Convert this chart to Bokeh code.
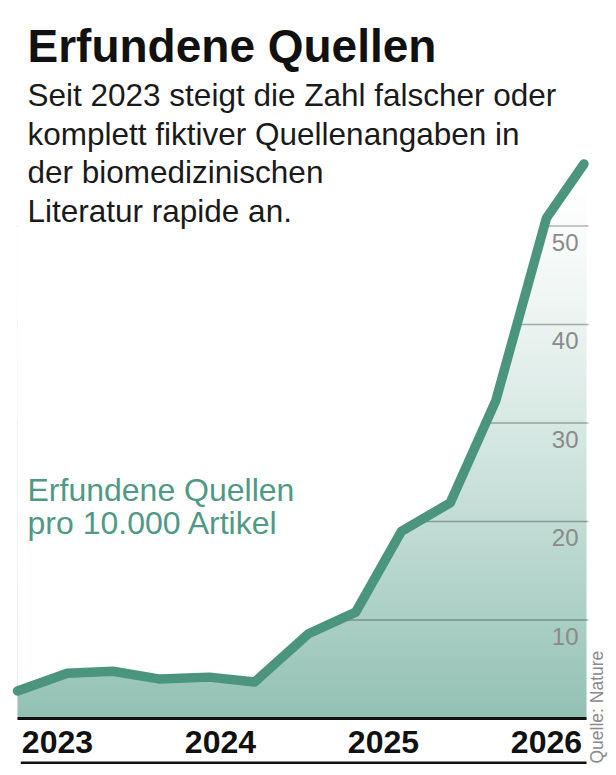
import numpy as np
from bokeh.plotting import figure
from bokeh.models import Label, Range1d
from bokeh.core.properties import value
from bokeh.embed import file_html
from bokeh.resources import INLINE

# ---------------- data ----------------
dates = [2022.755, 2023.06, 2023.34, 2023.63, 2023.93, 2024.21, 2024.54,
         2024.83, 2025.11, 2025.41, 2025.69, 2026.0, 2026.23]
values = [2.8, 4.6, 4.8, 4.0, 4.2, 3.7, 8.6, 10.8, 19.0, 21.9, 32.3, 50.8, 56.3]
year_ticks = [2023, 2024, 2025, 2026]
year_labels = ["2023", "2024", "2025", "2026"]
y_ticks = [10, 20, 30, 40, 50]
y_labels = ["10", "20", "30", "40", "50"]
title = "Erfundene Quellen"
subtitle = ["Seit 2023 steigt die Zahl falscher oder",
            "komplett fiktiver Quellenangaben in",
            "der biomedizinischen",
            "Literatur rapide an."]
series_label = ["Erfundene Quellen", "pro 10.000 Artikel"]
source = "Quelle: Nature"

# ---------------- style ----------------
W, H = 616, 775
TEAL = "#4b957f"
LABEL_TEAL = "#4f9985"
SANS = "Liberation Sans"
SHIFT = 0.37              # baseline compensation (fraction of font size)
PX_PER_UNIT = 9.85
ZERO_PX = 718

x_start = dates[0]
x_end = 2026.246          # right edge of the filled area
grid_end = 2026.258
x_lo, x_hi = 2022.6507, 2026.4299
y_lo, y_hi = -5.787, 72.893

def sy(px_from_top, size):
    return H - (px_from_top - SHIFT * size)

p = figure(width=W, height=H, output_backend="svg", toolbar_location=None,
           x_range=Range1d(x_lo, x_hi), y_range=Range1d(y_lo, y_hi),
           min_border=0, outline_line_color=None, background_fill_color="white",
           border_fill_color="white")
p.xaxis.visible = False
p.yaxis.visible = False
p.xgrid.visible = False
p.ygrid.visible = False

# vertical gradient (style only)
top_v = 60.0
nrows = 240
vv = (np.arange(nrows) + 0.5) / nrows * top_v
a = np.clip(1 - vv / 55.0, 0, 1) ** 1.3
base = np.array([146, 193, 180], dtype=float)
rgb = 255 - (255 - base)[None, :] * a[:, None]
img = np.zeros((nrows, 1), dtype=np.uint32)
view = img.view(dtype=np.uint8).reshape((nrows, 1, 4))
view[:, 0, 0] = rgb[:, 0].astype(np.uint8)
view[:, 0, 1] = rgb[:, 1].astype(np.uint8)
view[:, 0, 2] = rgb[:, 2].astype(np.uint8)
view[:, 0, 3] = 255
gr = p.image_rgba(image=[img], x=x_start, y=0, dw=x_end - x_start, dh=top_v)
gr.level = "image"

# grid lines (hidden above the curve by the mask)
gl = p.segment(x0=[x_start] * len(y_ticks), y0=y_ticks, x1=[grid_end] * len(y_ticks),
               y1=y_ticks, line_color="black", line_alpha=0.3, line_width=1.3)
gl.level = "underlay"

# white mask above the curve
p.varea(x=dates, y1=values, y2=[y_hi] * len(dates), fill_color="white")

# baseline and bottom rule
p.segment(x0=[x_start], y0=[0], x1=[x_end], y1=[0], line_color="#111111", line_width=3)
p.segment(x0=[x_start + 0.02], y0=[-4.5], x1=[x_end], y1=[-4.5], line_color="#111111",
          line_width=2.5)

# the series line
p.line(dates, values, line_color=TEAL, line_width=9.5, line_cap="round", line_join="round")

# y tick labels inside the chart
tick_size = 24
tick_off = (25 - SHIFT * tick_size) / PX_PER_UNIT
p.text(x=[2026.197] * len(y_ticks), y=[v - tick_off for v in y_ticks], text=y_labels,
       text_align="right", text_baseline="alphabetic", text_font=value(SANS),
       text_font_size=f"{tick_size}px", text_color="#8a8a8a")

# year labels
yr_size = 32
yr_y = (ZERO_PX - (753 - SHIFT * yr_size)) / PX_PER_UNIT
p.text(x=year_ticks, y=[yr_y] * len(year_ticks), text=year_labels,
       text_align="center", text_baseline="alphabetic", text_font=value(SANS),
       text_font_style="bold", text_font_size=f"{yr_size}px", text_color="#111111")

# title
p.add_layout(Label(x=27, y=sy(63, 46), x_units="screen", y_units="screen", text=title,
                   text_font=SANS, text_font_style="bold", text_font_size="46px",
                   text_color="#111111", text_baseline="alphabetic"))
# subtitle
for i, line in enumerate(subtitle):
    p.add_layout(Label(x=27, y=sy(106 + 38.7 * i, 31.5), x_units="screen", y_units="screen",
                       text=line, text_font=SANS, text_font_size="31.5px",
                       text_color="#1a1a1a", text_baseline="alphabetic"))
# series label
for i, line in enumerate(series_label):
    p.add_layout(Label(x=27, y=sy(501 + 33 * i, 32), x_units="screen", y_units="screen",
                       text=line, text_font=SANS, text_font_size="32px",
                       text_color=LABEL_TEAL, text_baseline="alphabetic"))
# source
src_size = 17.5
p.add_layout(Label(x=603 - SHIFT * src_size, y=H - 763, x_units="screen", y_units="screen",
                   text=source, angle=np.pi / 2, text_font=SANS,
                   text_font_size=f"{src_size}px", text_color="#8a8a8a",
                   text_baseline="alphabetic", text_align="left"))

open("out.html", "w").write(file_html(p, INLINE))
